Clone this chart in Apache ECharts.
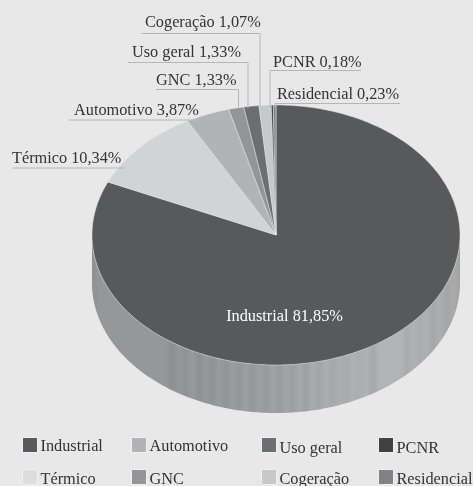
<!DOCTYPE html>
<html><head><meta charset="utf-8">
<style>html,body{margin:0;padding:0;background:#e8e8e8}#c{width:473px;height:486px}</style>
<script src="https://cdn.jsdelivr.net/npm/echarts@6/dist/echarts.min.js"></script>
</head><body><div id="c"></div>
<script>
const categories = ['Industrial','Térmico','Automotivo','GNC','Uso geral','Cogeração','PCNR','Residencial'];
const shares = [81.85,10.34,3.87,1.33,1.33,1.07,0.18,0.23];
const sliceColors = ['#58595b','#d1d3d4','#b1b3b6','#939598','#6d6e71','#c7c8ca','#414042','#808285'];
const legendColors = ['#58595b','#dcddde','#b1b3b6','#939598','#6d6e71','#c7c8ca','#414042','#808285'];
// side wall shading, read left to right across the pie
const wallShades = ['#8f9091','#959697','#969798','#969798','#969798','#969798','#969798','#969798','#969798','#969798','#969798','#969798','#8c8e90','#95979a','#8f9193','#989a9c','#8e9092','#96989a','#909294','#999b9d','#929496','#9a9c9e','#949698','#9c9ea0','#95979a','#9d9fa1','#97999b','#a0a2a4','#999b9d','#a3a5a7','#9c9ea0','#a6a8aa','#9f9fa2','#a9abad','#a2a4a6','#abadaf','#a5a7a9','#acaeb0','#a8aaac','#aeb0b2','#aaacae','#b0b2b4','#a6a8aa','#b3b4b6','#b3b4b6','#b3b4b6','#b3b4b6','#a8aaac','#b0b1b3','#a9abad','#aeb0b2','#a5a7a9','#acaeb0','#a3a5a7','#a8aaac','#a0a2a4'];

// layout
const CX = 276, CY = 235, RX = 184, RY = 130, DEPTH = 48;
const FONT = '16.3px "Liberation Serif"';
const TEXT = '#333334', LEADER = '#b5b6b8';
const labelPos = [
  {x:284.5,y:317,anchor:'center',fill:'#ffffff'},
  {x:12,y:159},{x:74,y:111},{x:156,y:81},{x:132,y:53},{x:145,y:23},{x:273,y:63},{x:277,y:95}
];
const leaders = [
  null,
  [[12,168],[124,168]],
  [[69,120],[199,120]],
  [[156,89.5],[238.5,89.5],[238.5,107]],
  [[128,62.5],[248,62.5],[248,108]],
  [[141,33.5],[260,33.5],[260,106]],
  [[361,70.5],[270,70.5],[270,108]],
  [[400,103.5],[275,103.5],[275,107]]
];
const legendPos = [
  {l:22,t:437},{l:22,t:469},{l:131,t:437},{l:131,t:469},
  {l:261,t:437},{l:261,t:469},{l:378,t:437},{l:378,t:469}
];
const legendTextTop = [4,6,4,6,8,6,8,6];

const total = shares.reduce((a,b)=>a+b,0);
function pt(deg, dy){
  const a = deg*Math.PI/180;
  return [CX+RX*Math.sin(a), CY-RY*Math.cos(a)+(dy||0)];
}
function arc(a0,a1,dy){
  const n = Math.max(2,Math.ceil(Math.abs(a1-a0)/1)), p=[];
  for(let i=0;i<=n;i++) p.push(pt(a0+(a1-a0)*i/n,dy));
  return p;
}
function render(index){
  return function(params, api){
    const v = api.value(0);
    let before = 0;
    for(let i=0;i<index;i++) before += shares[i];
    const a0 = before/total*360, a1 = (before+v)/total*360;
    const children = [];
    const w0 = Math.max(a0,90), w1 = Math.min(a1,270);
    if(w1>w0){
      const stops = wallShades.map((c,i)=>({offset:i/(wallShades.length-1),color:c}));
      children.push({type:'polygon',
        shape:{points:arc(w0,w1,0).concat(arc(w1,w0,DEPTH))},
        style:{fill:{type:'linear',x:CX-RX,y:0,x2:CX+RX,y2:0,global:true,colorStops:stops}}});
    }
    children.push({type:'polygon',
      shape:{points:[[CX,CY]].concat(arc(a0,a1,0))},
      style:{fill:sliceColors[index],stroke:'#e4e5e6',lineWidth:0.5}});
    return {type:'group',children};
  };
}
function renderLabel(index){
  return function(params, api){
    const v = api.value(0), p = labelPos[index], kids = [];
    if(leaders[index]) kids.push({type:'polyline',shape:{points:leaders[index]},
      style:{fill:'none',stroke:LEADER,lineWidth:1}});
    kids.push({type:'text',style:{
      text:categories[index]+' '+v.toFixed(2).replace('.',',')+'%',
      x:p.x,y:p.y,font:FONT,fill:p.fill||TEXT,
      textAlign:p.anchor||'left',textVerticalAlign:'middle'}});
    return {type:'group',children:kids};
  };
}
const series = categories.map((name,i)=>({
  type:'custom',name,coordinateSystem:'none',clip:false,silent:true,z:2,
  itemStyle:{color:legendColors[i]},
  data:[[shares[i]]],renderItem:render(i)
})).concat(categories.map((name,i)=>({
  type:'custom',name:'label '+name,coordinateSystem:'none',clip:false,silent:true,z:3,
  data:[[shares[i]]],renderItem:renderLabel(i)
})));
const legend = categories.map((name,i)=>({
  data:[name],left:legendPos[i].l,top:legendPos[i].t,orient:'horizontal',padding:0,
  itemWidth:15,itemHeight:15,selectedMode:false,icon:'rect',
  itemStyle:{borderColor:'#f1f1f1',borderWidth:1},
  formatter:'{t|{name}}',
  textStyle:{fontFamily:'Liberation Serif',fontSize:16.3,color:TEXT,padding:[0,0,0,-2],
    rich:{t:{fontFamily:'Liberation Serif',fontSize:16.3,color:TEXT,verticalAlign:'bottom',padding:[legendTextTop[i],0,0,0]}}}
}));
const chart = echarts.init(document.getElementById('c'),null,{renderer:'canvas'});
chart.setOption({backgroundColor:'#e8e8e8',animation:false,tooltip:{show:false},legend,series});
</script></body></html>
